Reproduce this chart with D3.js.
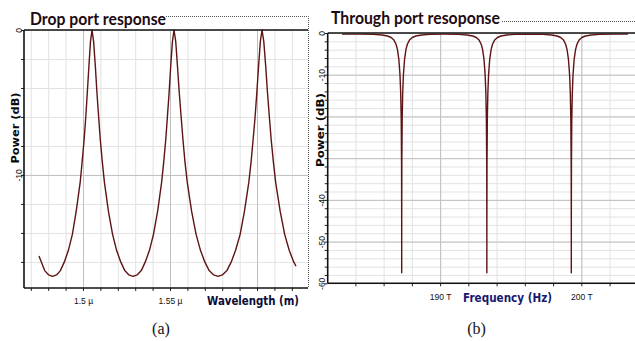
<!DOCTYPE html>
<html><head><meta charset="utf-8">
<script src="https://cdn.jsdelivr.net/npm/d3@7"></script>
<style>
html,body{margin:0;padding:0;background:#fff;}
svg{display:block;}
</style></head>
<body>
<svg id="chart" width="635" height="341"></svg>
<script>
// ---------- Data: panel (a) drop port ----------
const dropWavelengthNm = [1474.7,1478.0,1480.3,1482.5,1484.8,1487.0,1489.3,1491.6,1493.9,1496.1,1498.4,1499.5,1500.7,1501.6,1502.5,1503.4,1504.3,1505.2,
 1506.1,1507.1,1508.0,1509.0,1509.9,1511.1,1512.3,1514.6,1517.0,1519.3,1521.7,1524.0,1526.4,1528.75,
 1531.1,1533.5,1535.8,1538.2,1540.5,1542.9,1545.2,1546.4,1547.6,1548.5,1549.5,1550.4,1551.4,1552.3,
 1553.3,1554.3,1555.3,1556.4,1557.4,1558.6,1559.9,1562.4,1565.0,1567.5,1570.0,1572.5,1575.1,1577.6,
 1580.1,1582.7,1585.2,1587.7,1590.3,1592.8,1595.3,1596.6,1597.8,1598.9,1599.9,1600.9,1601.9,1602.9,
 1603.9,1605.0,1606.0,1607.1,1608.1,1609.4,1610.7,1613.3,1615.9,1618.5,1621.1,1622.4];
const dropPowerDb = [-15.6,-16.6,-16.9,-17.0,-16.9,-16.6,-16.0,-15.2,-14.1,-12.5,-10.5,-9.1,-7.5,-6.0,-4.3,-2.5,-0.8,0,
 -0.8,-2.5,-4.3,-6.0,-7.5,-9.1,-10.5,-12.5,-14.1,-15.2,-16.0,-16.6,-16.9,-17.0,
 -16.9,-16.6,-16.0,-15.2,-14.1,-12.5,-10.5,-9.1,-7.5,-6.0,-4.3,-2.5,-0.8,0,
 -0.8,-2.5,-4.3,-6.0,-7.5,-9.1,-10.5,-12.5,-14.1,-15.2,-16.0,-16.6,-16.9,-17.0,
 -16.9,-16.6,-16.0,-15.2,-14.1,-12.5,-10.5,-9.1,-7.5,-6.0,-4.3,-2.5,-0.8,0,
 -0.8,-2.5,-4.3,-6.0,-7.5,-9.1,-10.5,-12.5,-14.1,-15.2,-16.0,-16.3];

// ---------- Data: panel (b) through port ----------
const thruFreqTHz = [183.05,
 184.28,185.28,185.88,186.28,186.53,186.73,186.88,186.98,187.08,187.16,187.21,187.245,187.27,187.278,187.28,187.282,187.29,187.315,187.35,187.40,187.48,187.58,187.68,187.83,188.03,188.28,188.68,189.28,190.28,
 190.31,191.31,191.91,192.31,192.56,192.76,192.91,193.01,193.11,193.19,193.24,193.275,193.30,193.308,193.31,193.312,193.32,193.345,193.38,193.43,193.51,193.61,193.71,193.86,194.06,194.31,194.71,195.31,196.31,
 196.29,197.29,197.89,198.29,198.54,198.74,198.89,198.99,199.09,199.17,199.22,199.255,199.28,199.288,199.29,199.292,199.30,199.325,199.36,199.41,199.49,199.59,199.69,199.84,200.04,200.29,200.69,201.29,202.29,
 203.3];
const thruPowerDb = [-0.26,
 -0.26,-0.34,-0.47,-0.72,-1.08,-1.7,-2.7,-4.0,-6.4,-10.1,-14.5,-20.4,-31.2,-44.9,-57.5,-44.9,-31.2,-20.4,-14.5,-10.1,-6.4,-4.0,-2.7,-1.7,-1.08,-0.72,-0.47,-0.34,-0.26,
 -0.26,-0.34,-0.47,-0.72,-1.08,-1.7,-2.7,-4.0,-6.4,-10.1,-14.5,-20.4,-31.2,-44.9,-57.5,-44.9,-31.2,-20.4,-14.5,-10.1,-6.4,-4.0,-2.7,-1.7,-1.08,-0.72,-0.47,-0.34,-0.26,
 -0.26,-0.34,-0.47,-0.72,-1.08,-1.7,-2.7,-4.0,-6.4,-10.1,-14.5,-20.4,-31.2,-44.9,-57.5,-44.9,-31.2,-20.4,-14.5,-10.1,-6.4,-4.0,-2.7,-1.7,-1.08,-0.72,-0.47,-0.34,-0.26,
 -0.26];

// ---------- Ticks ----------
const aXTickValues = [1500, 1550];
const aXTickLabels = ["1.5 µ", "1.55 µ"];
const aXMinorTicks = [1470,1480,1490,1500,1510,1520,1530,1540,1550,1560,1570,1580,1590,1600,1610,1620];
const aXMajorGrid = [1500,1550,1600];
const aYTickValues = [0, -10];
const aYMinorTicks = [0,-2,-4,-6,-8,-10,-12,-14,-16];
const aYMajorGrid = [-10];

const bXTickValues = [190, 200];
const bXTickLabels = ["190 T", "200 T"];
const bXMinorTicks = [184,186,188,190,192,194,196,198,200,202];
const bXMajorGrid = [190, 200];
const bYTickValues = [0, -10, -40, -50, -60];
const bYMinorTicks = d3.range(0, -61, -2);
const bYMajorGrid = [-10,-20,-30,-40,-50];

const svg = d3.select("#chart");
const lineColor = "#5e1414";

function panel(cfg) {
  const g = svg.append("g");
  const x = d3.scaleLinear().domain(cfg.xDomain).range([cfg.left, cfg.right]);
  const y = d3.scaleLinear().domain(cfg.yDomain).range([cfg.bottom, cfg.top]);
  const H = cfg.bottom - cfg.top, W = cfg.right - cfg.left;

  // minor grid
  g.append("g").attr("transform", `translate(0,${cfg.bottom})`)
    .call(d3.axisBottom(x).tickValues(cfg.xMinor).tickSize(-H).tickFormat(""))
    .call(s => { s.select(".domain").remove(); s.selectAll("line").attr("stroke", "#e2e2e2").attr("stroke-width", 1); });
  g.append("g").attr("transform", `translate(${cfg.left},0)`)
    .call(d3.axisLeft(y).tickValues(cfg.yMinor).tickSize(-W).tickFormat(""))
    .call(s => { s.select(".domain").remove(); s.selectAll("line").attr("stroke", "#e2e2e2").attr("stroke-width", 1); });
  // major grid
  g.append("g").attr("transform", `translate(0,${cfg.bottom})`)
    .call(d3.axisBottom(x).tickValues(cfg.xMajor).tickSize(-H).tickFormat(""))
    .call(s => { s.select(".domain").remove(); s.selectAll("line").attr("stroke", "#c0c0c0").attr("stroke-width", 1); });
  g.append("g").attr("transform", `translate(${cfg.left},0)`)
    .call(d3.axisLeft(y).tickValues(cfg.yMajor).tickSize(-W).tickFormat(""))
    .call(s => { s.select(".domain").remove(); s.selectAll("line").attr("stroke", "#c0c0c0").attr("stroke-width", 1); });

  // minor ticks on axes
  g.append("g").attr("transform", `translate(0,${cfg.bottom})`)
    .call(d3.axisBottom(x).tickValues(cfg.xMinor).tickSize(3).tickFormat(""))
    .call(s => { s.select(".domain").remove(); s.selectAll("line").attr("stroke", "#222"); });
  g.append("g").attr("transform", `translate(${cfg.left},0)`)
    .call(d3.axisLeft(y).tickValues(cfg.yMinor).tickSize(3).tickFormat(""))
    .call(s => { s.select(".domain").remove(); s.selectAll("line").attr("stroke", "#222"); });

  // data line
  const data = cfg.xs.map((v, i) => [v, cfg.ys[i]]);
  g.append("path").datum(data)
    .attr("fill", "none").attr("stroke", lineColor).attr("stroke-width", 1.4)
    .attr("stroke-linejoin", "round")
    .attr("d", d3.line().x(d => x(d[0])).y(d => y(d[1])));

  // axis lines
  g.append("line").attr("x1", cfg.left).attr("x2", cfg.right).attr("y1", cfg.top).attr("y2", cfg.top)
    .attr("stroke", "#111").attr("stroke-width", 1.6);
  g.append("line").attr("x1", cfg.left).attr("x2", cfg.left).attr("y1", cfg.top).attr("y2", cfg.bottom)
    .attr("stroke", "#111").attr("stroke-width", 1.6);
  g.append("line").attr("x1", cfg.left).attr("x2", cfg.right).attr("y1", cfg.bottom).attr("y2", cfg.bottom)
    .attr("stroke", "#111").attr("stroke-width", 1.6);

  // x tick labels
  g.append("g").attr("transform", `translate(0,${cfg.bottom})`)
    .call(d3.axisBottom(x).tickValues(cfg.xTicks).tickSize(0).tickFormat((d, i) => cfg.xLabels[i]))
    .call(s => {
      s.select(".domain").remove();
      s.selectAll("text").attr("y", cfg.xLabelDy).attr("dy", 0)
        .attr("font-family", "Liberation Sans, Arial, sans-serif").attr("font-size", 8.5).attr("fill", "#111");
    });
  // y tick labels, rotated
  g.append("g").attr("transform", `translate(${cfg.left},0)`)
    .call(d3.axisLeft(y).tickValues(cfg.yTicks).tickSize(0).tickFormat(d => d === 0 ? "0" : String(d)))
    .call(s => {
      s.select(".domain").remove();
      s.selectAll("text").attr("x", 0).attr("dy", 0).attr("text-anchor", "middle")
        .attr("transform", "translate(-2.5,0) rotate(-90)")
        .attr("font-family", "Liberation Sans, Arial, sans-serif").attr("font-size", 8.5).attr("fill", "#111");
    });
  return { g, x, y };
}

// ---- Panel (a)
const A = panel({
  left: 24, right: 308, top: 30, bottom: 288,
  xDomain: [1466.1, 1629.3], yDomain: [-17.8, 0],
  xMinor: aXMinorTicks, yMinor: aYMinorTicks, xMajor: aXMajorGrid, yMajor: aYMajorGrid,
  xTicks: aXTickValues, xLabels: aXTickLabels, yTicks: aYTickValues, xLabelDy: 16,
  xs: dropWavelengthNm, ys: dropPowerDb
});
// dotted frame of panel (a)
svg.append("path").attr("d", "M166,16.5 H308.5 V288").attr("fill", "none")
  .attr("stroke", "#555").attr("stroke-width", 1).attr("stroke-dasharray", "1,1");

// ---- Panel (b)
const B = panel({
  left: 327.7, right: 635, top: 33, bottom: 283.3,
  xDomain: [182.04, 203.8], yDomain: [-60, 0],
  xMinor: bXMinorTicks, yMinor: bYMinorTicks, xMajor: bXMajorGrid, yMajor: bYMajorGrid,
  xTicks: bXTickValues, xLabels: bXTickLabels, yTicks: bYTickValues, xLabelDy: 16.5,
  xs: thruFreqTHz, ys: thruPowerDb
});
svg.append("line").attr("x1", 502).attr("x2", 635).attr("y1", 21.5).attr("y2", 21.5)
  .attr("stroke", "#555").attr("stroke-width", 1).attr("stroke-dasharray", "1,1");

// ---- Titles
function title(txt, x, y, len) {
  svg.append("text").attr("x", x).attr("y", y).text(txt)
    .attr("font-family", "Lato, 'Open Sans', sans-serif").attr("font-weight", 700)
    .attr("font-size", 16.5).attr("fill", "#1e0a12")
    .attr("textLength", len).attr("lengthAdjust", "spacingAndGlyphs");
}
title("Drop port response", 30, 24.5, 136);
title("Through port resoponse", 331, 24, 169);

// ---- Axis titles
function ylabel(txt, cx, cy, len) {
  svg.append("text").attr("transform", `translate(${cx},${cy}) rotate(-90)`)
    .attr("text-anchor", "middle").text(txt)
    .attr("font-family", "'DejaVu Sans', sans-serif").attr("font-weight", 700)
    .attr("font-size", 10).attr("fill", "#0a0a0a")
    .attr("textLength", len).attr("lengthAdjust", "spacingAndGlyphs");
}
ylabel("Power (dB)", 19.3, 128, 71);
ylabel("Power (dB)", 324.3, 130, 74);

function xlabel(txt, x, y, len, color) {
  svg.append("text").attr("x", x).attr("y", y).text(txt)
    .attr("font-family", "'DejaVu Sans', sans-serif").attr("font-weight", 700)
    .attr("font-size", 12).attr("fill", color)
    .attr("textLength", len).attr("lengthAdjust", "spacingAndGlyphs");
}
xlabel("Wavelength (m)", 207, 305, 92, "#0b0b36");
xlabel("Frequency (Hz)", 463, 302, 89, "#17186e");

// ---- Sub-captions
svg.append("text").attr("x", 161).attr("y", 334).attr("text-anchor", "middle").text("(a)")
  .attr("font-family", "'Liberation Serif', 'Times New Roman', serif").attr("font-size", 16).attr("fill", "#111");
svg.append("text").attr("x", 476.5).attr("y", 334).attr("text-anchor", "middle").text("(b)")
  .attr("font-family", "'Liberation Serif', 'Times New Roman', serif").attr("font-size", 16).attr("fill", "#111");
</script>
</body></html>
